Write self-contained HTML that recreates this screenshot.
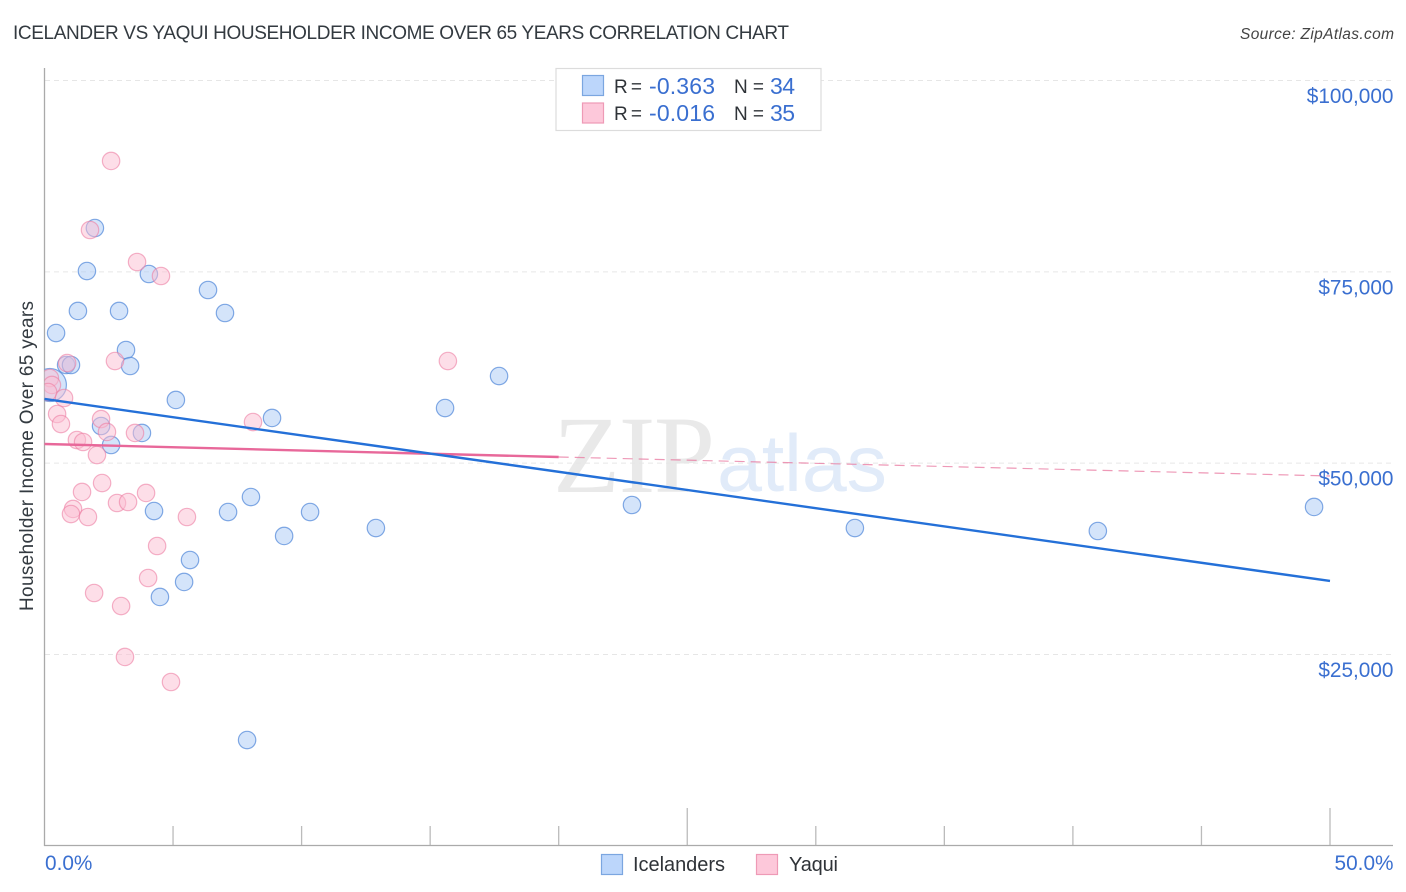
<!DOCTYPE html>
<html>
<head>
<meta charset="utf-8">
<title>Icelander vs Yaqui Householder Income Over 65 Years Correlation Chart</title>
<style>
html,body{margin:0;padding:0;background:#fff;width:1406px;height:892px;overflow:hidden}
svg{display:block;font-family:"Liberation Sans",sans-serif}
</style>
</head>
<body>
<svg id="chart" xmlns="http://www.w3.org/2000/svg" width="1406" height="892" viewBox="0 0 1406 892">
  <defs>
    <clipPath id="plot-clip"><rect x="44.5" y="60" width="1360" height="786"/></clipPath>
  </defs>
  <text x="13" y="39" font-size="19" fill="#333a40" textLength="776" lengthAdjust="spacing">ICELANDER VS YAQUI HOUSEHOLDER INCOME OVER 65 YEARS CORRELATION CHART</text>
  <text x="1394" y="39" font-size="15.5" font-style="italic" fill="#444" text-anchor="end" textLength="154" lengthAdjust="spacing">Source: ZipAtlas.com</text>

  <g>
    <text x="553" y="492" font-family="'Liberation Serif',serif" font-size="110" fill="#e9e9e9" textLength="162">ZIP</text>
    <text x="717" y="491" font-size="81" fill="#e1ebf9" textLength="170">atlas</text>
  </g>

  <g id="grid"></g>
  <g id="ticks"></g>
  <line x1="44.5" y1="68" x2="44.5" y2="846" stroke="#aaa" stroke-width="1.3"/>
  <line x1="44" y1="845.5" x2="1393" y2="845.5" stroke="#aaa" stroke-width="1.3"/>
  <g id="ylabels"></g>
  <g id="xlabels"></g>
  <text transform="translate(33,456) rotate(-90)" font-size="19" fill="#333a40" text-anchor="middle" textLength="310" lengthAdjust="spacing">Householder Income Over 65 years</text>

  <g id="points" clip-path="url(#plot-clip)"></g>
  <g id="trends"></g>

  <g>
    <rect x="556" y="68.5" width="265" height="62" fill="#fff" stroke="#dcdcdc" stroke-width="1.2"/>
    <rect x="582.5" y="75.5" width="21" height="20" fill="#bcd6fb" stroke="#7ba6e0" stroke-width="1.2"/>
    <rect x="582.5" y="103" width="21" height="20" fill="#fdc8da" stroke="#ee9ab6" stroke-width="1.2"/>
    <text x="614" y="93" font-size="19" fill="#2f3338" textLength="28" lengthAdjust="spacing">R =</text>
    <text x="649" y="94" font-size="23" fill="#3a6fd0" textLength="66">-0.363</text>
    <text x="734" y="93" font-size="19" fill="#2f3338" textLength="30" lengthAdjust="spacing">N =</text>
    <text x="770" y="94" font-size="23" fill="#3a6fd0" textLength="25">34</text>
    <text x="614" y="120" font-size="19" fill="#2f3338" textLength="28" lengthAdjust="spacing">R =</text>
    <text x="649" y="121" font-size="23" fill="#3a6fd0" textLength="66">-0.016</text>
    <text x="734" y="120" font-size="19" fill="#2f3338" textLength="30" lengthAdjust="spacing">N =</text>
    <text x="770" y="121" font-size="23" fill="#3a6fd0" textLength="25">35</text>
  </g>

  <g>
    <rect x="601.5" y="854.5" width="21" height="20" fill="#bcd6fb" stroke="#7ba6e0" stroke-width="1.2"/>
    <text x="633" y="871" font-size="20" fill="#2f3338" textLength="92">Icelanders</text>
    <rect x="756.5" y="854.5" width="21" height="20" fill="#fdc8da" stroke="#ee9ab6" stroke-width="1.2"/>
    <text x="789" y="871" font-size="20" fill="#2f3338" textLength="49">Yaqui</text>
  </g>
</svg>
<script>
const yTickValues = [25000, 50000, 75000, 100000];
const yTickLabels = ["$25,000", "$50,000", "$75,000", "$100,000"];
const xTickValues = [0, 5, 10, 15, 20, 25, 30, 35, 40, 45, 50];
const xMajorTicks = [25, 50];
const xEndLabels = ["0.0%", "50.0%"];

const icelanderX = [1.96,1.65,4.06,6.36,1.30,2.90,7.02,0.45,3.17,0.84,1.03,3.33,0.21,5.11,8.85,15.58,17.68,2.20,3.79,2.59,4.26,8.03,7.14,10.33,9.32,12.89,5.66,5.43,4.49,7.88,22.85,31.52,40.97,49.38];
const icelanderY = [80660,75040,74650,72560,69820,69820,69555,66940,64720,62760,62760,62630,60150,58190,55840,57140,61320,54790,53880,52310,43680,45510,43550,43550,40420,41460,37280,34410,32450,13760,44470,41460,41070,44210];
const icelanderWeight = [1,1,1,1,1,1,1,1,1,1,1,1,3,1,1,1,1,1,1,1,1,1,1,1,1,1,1,1,1,1,1,1,1,1];

const yaquiX = [2.59,1.77,3.60,4.53,0.88,2.74,15.69,0.21,0.29,0.14,0.76,0.49,0.64,2.20,2.43,3.52,8.11,1.26,1.50,2.04,2.24,1.46,3.95,1.11,1.03,1.69,2.82,3.25,5.54,4.38,4.03,1.93,2.98,3.13,4.92];
const yaquiY = [89420,80400,76220,74390,63020,63280,63280,61060,60150,59230,58450,56360,55050,55700,54010,53880,55310,52960,52700,51000,47340,46170,46040,43950,43290,42900,44730,44860,42900,39110,34930,32970,31270,24610,21340];

const icelanderTrendX = [0, 50];
const icelanderTrendY = [58320, 34540];
const yaquiTrendX = [0, 20];
const yaquiTrendY = [52440, 50740];
const yaquiDashX = [20, 50];
const yaquiDashY = [50740, 48260];

const NS = 'http://www.w3.org/2000/svg';
function xScale(v){ return 44.5 + v * (1330 - 44.5) / 50; }
function yScale(v){ return 654 - (v - 25000) * (654 - 80) / 75000; }
function mk(tag, attrs){
  const el = document.createElementNS(NS, tag);
  for (const k in attrs) el.setAttribute(k, attrs[k]);
  return el;
}

const gridG = document.getElementById('grid');
const yLabG = document.getElementById('ylabels');
yTickValues.forEach(function(v, i){
  const gl = mk('line', {x1:45, x2:1393, y1:yScale(v)+0.5, y2:yScale(v)+0.5, stroke:'#e6e6e6', 'stroke-width':1, 'stroke-dasharray':'5 4'});
  
  
  gridG.appendChild(gl);
  const t = mk('text', {x:1393.5, y:yScale(v)+23, 'font-size':20.8, fill:'#3a6fd0', 'text-anchor':'end'});
  t.textContent = yTickLabels[i];
  
  
  yLabG.appendChild(t);
});

const tickG = document.getElementById('ticks');
xTickValues.slice(1).forEach(function(v){
  const top = xMajorTicks.indexOf(v) >= 0 ? 808 : 826;
  const tk = mk('line', {x1:xScale(v), x2:xScale(v), y1:top, y2:846, stroke:'#bbb', 'stroke-width':1.3});
  
  
  tickG.appendChild(tk);
});

const xLabG = document.getElementById('xlabels');
const x0 = mk('text', {x:45, y:870, 'font-size':20.8, fill:'#3a6fd0'});
x0.textContent = xEndLabels[0];


xLabG.appendChild(x0);
const x1 = mk('text', {x:1393.5, y:870, 'font-size':20.8, fill:'#3a6fd0', 'text-anchor':'end'});
x1.textContent = xEndLabels[1];


xLabG.appendChild(x1);

const ptG = document.getElementById('points');
icelanderX.forEach(function(v, i){
  const r = icelanderWeight[i] > 1 ? 16.5 : 8.7;
  const c = mk('circle', {cx:xScale(v), cy:yScale(icelanderY[i]), r:r, fill:'#a9caf5', 'fill-opacity':0.5, stroke:'#4f86d8', 'stroke-opacity':0.7, 'stroke-width':1.2});
  
  
  ptG.appendChild(c);
});
yaquiX.forEach(function(v, i){
  const c = mk('circle', {cx:xScale(v), cy:yScale(yaquiY[i]), r:8.7, fill:'#fbbdd2', 'fill-opacity':0.5, stroke:'#ec7fa4', 'stroke-opacity':0.6, 'stroke-width':1.2});
  
  
  ptG.appendChild(c);
});

const trG = document.getElementById('trends');
const dashLine = mk('line', {x1:xScale(yaquiDashX[0]), y1:yScale(yaquiDashY[0]), x2:xScale(yaquiDashX[1]), y2:yScale(yaquiDashY[1]), stroke:'#e8779f', 'stroke-opacity':0.75, 'stroke-width':1.2, 'stroke-dasharray':'10 6'});


trG.appendChild(dashLine);
const yaquiLine = mk('line', {x1:xScale(yaquiTrendX[0]), y1:yScale(yaquiTrendY[0]), x2:xScale(yaquiTrendX[1]), y2:yScale(yaquiTrendY[1]), stroke:'#e8689a', 'stroke-width':2.4});


trG.appendChild(yaquiLine);
const iceLine = mk('line', {x1:xScale(icelanderTrendX[0]), y1:yScale(icelanderTrendY[0]), x2:xScale(icelanderTrendX[1]), y2:yScale(icelanderTrendY[1]), stroke:'#2470d8', 'stroke-width':2.4});


trG.appendChild(iceLine);
</script>
</body>
</html>
